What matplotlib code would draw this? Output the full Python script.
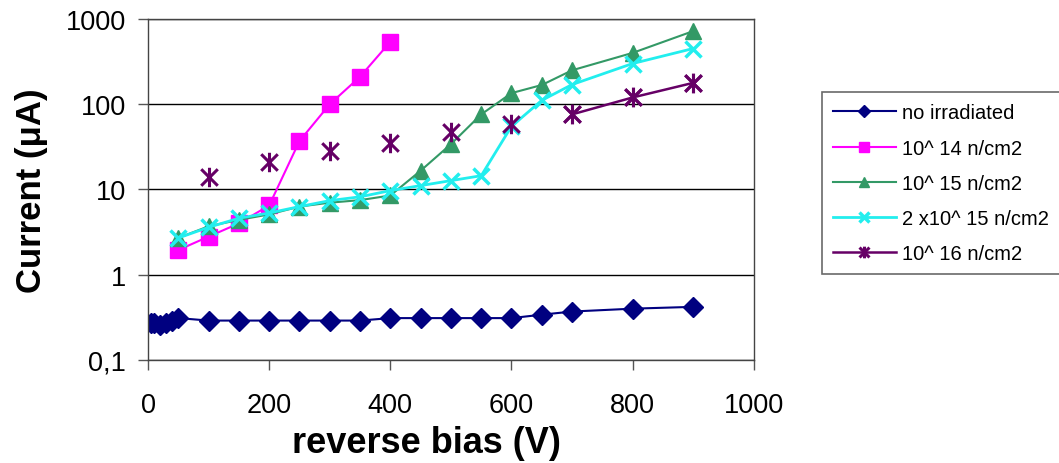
import matplotlib
matplotlib.use("Agg")
import matplotlib.pyplot as plt
from matplotlib.path import Path

plt.rcParams["font.family"] = ["Liberation Sans", "DejaVu Sans"]

# no irradiated
x_no = [5, 10, 20, 30, 40, 50, 100, 150, 200, 250, 300, 350, 400, 450, 500,
        550, 600, 650, 700, 800, 900]
y_no = [0.27, 0.27, 0.26, 0.27, 0.29, 0.31, 0.29, 0.29, 0.29, 0.29, 0.29,
        0.29, 0.31, 0.31, 0.31, 0.31, 0.31, 0.34, 0.37, 0.40, 0.42]

# 10^14
x_14 = [50, 100, 150, 200, 250, 300, 350, 400]
y_14 = [1.95, 2.8, 4.0, 6.5, 37, 100, 210, 540]

# 10^15 and 2x10^15
x_15 = [50, 100, 150, 200, 250, 300, 350, 400, 450, 500, 550, 600, 650, 700,
        800, 900]
y_15 = [2.7, 3.7, 4.4, 5.1, 6.3, 7.0, 7.5, 8.5, 16.6, 34, 76, 135, 168, 250,
        400, 720]
y_2x15 = [2.7, 3.6, 4.6, 5.3, 6.3, 7.4, 8.2, 9.7, 11.1, 12.7, 14.5, 55, 111,
          170, 300, 450]

# 10^16
x_16 = [100, 200, 300, 400, 500, 600, 700, 800, 900]
y_16 = [14, 21, 28, 35, 47, 59, 76, 120, 178]

asterisk = Path([(0, -1), (0, 1), (-0.85, -0.85), (0.85, 0.85),
                 (-0.85, 0.85), (0.85, -0.85)],
                [Path.MOVETO, Path.LINETO, Path.MOVETO, Path.LINETO,
                 Path.MOVETO, Path.LINETO])

fig = plt.figure(figsize=(10.59, 4.64), dpi=100)
ax = fig.add_axes([0.1398, 0.222, 0.572, 0.735])

ax.plot(x_no, y_no, color="#000080", lw=1.5, marker="D", ms=10,
        label="no irradiated")
ax.plot(x_14, y_14, color="#FF00FF", lw=1.5, marker="s", ms=11,
        label="10^ 14 n/cm2")
ax.plot(x_15, y_15, color="#339966", lw=1.5, marker="^", ms=12,
        label="10^ 15 n/cm2")
ax.plot(x_15, y_2x15, color="#22EEEE", lw=2, marker="x", ms=12, mew=2.5,
        label="2 x10^ 15 n/cm2")
ax.plot(x_16, y_16, ls="none", color="#660066", marker=asterisk, ms=14,
        mew=2.2)
ax.plot(x_16[6:], y_16[6:], color="#660066", lw=1.8, marker=asterisk, ms=14,
        mew=2.2, label="10^ 16 n/cm2")

ax.set_yscale("log")
ax.set_ylim(0.1, 1000)
ax.set_xlim(0, 1000)
ax.set_yticks([0.1, 1, 10, 100, 1000])
ax.set_yticklabels(["0,1", "1", "10", "100", "1000"])
ax.minorticks_off()
ax.set_xticks([0, 200, 400, 600, 800, 1000])
ax.yaxis.grid(True, color="black", lw=1)
ax.tick_params(axis="both", labelsize=19.5, direction="out", length=7,
               color="#555555", width=1)
ax.tick_params(axis="x", pad=16)
ax.tick_params(axis="y", pad=9)
for s in ax.spines.values():
    s.set_color("#444444")
    s.set_linewidth(1)

ax.set_xlabel("reverse bias (V)", fontsize=26, fontweight="bold")
ax.xaxis.set_label_coords(0.46, -0.19)
ax.set_ylabel("Current (\u03bcA)", fontsize=25, fontweight="bold")
ax.yaxis.set_label_coords(-0.165, 0.5)

leg = fig.legend(loc="lower left", bbox_to_anchor=(822 / 1059, 1 - 275 / 464),
                 fontsize=14.5, frameon=True, fancybox=False,
                 edgecolor="#444444", handlelength=3.1, handletextpad=0.3,
                 labelspacing=0.8, borderpad=0.55, borderaxespad=0,
                 markerscale=0.6)
leg.get_frame().set_linewidth(1.2)

fig.savefig("out.png", dpi=100)
